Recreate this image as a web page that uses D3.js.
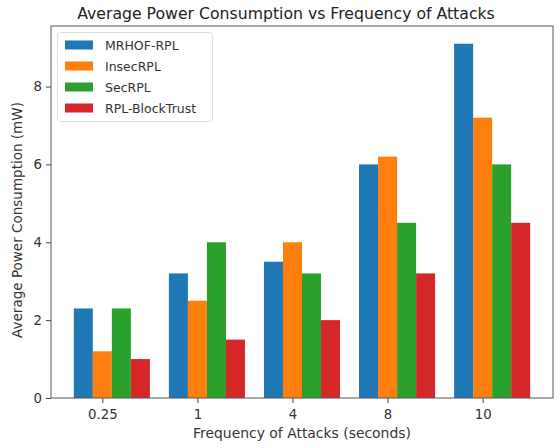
<!DOCTYPE html>
<html>
<head>
<meta charset="utf-8">
<script src="https://cdn.jsdelivr.net/npm/d3@7"></script>
<style>
  body { margin: 0; background: #fff; }
  svg { display: block; font-family: "DejaVu Sans", sans-serif; }
</style>
</head>
<body>
<svg id="chart" width="560" height="448"></svg>
<script>
const categories = ["0.25", "1", "4", "8", "10"];
const seriesNames = ["MRHOF-RPL", "InsecRPL", "SecRPL", "RPL-BlockTrust"];
const mrhof = [2.3, 3.2, 3.5, 6.0, 9.1];
const insec = [1.2, 2.5, 4.0, 6.2, 7.2];
const sec = [2.3, 4.0, 3.2, 4.5, 6.0];
const blockTrust = [1.0, 1.5, 2.0, 3.2, 4.5];
const yTicks = [0, 2, 4, 6, 8];
const colors = ["#1f77b4", "#ff7f0e", "#2ca02c", "#d62728"];
const seriesValues = [mrhof, insec, sec, blockTrust];

(function () {
const svg = d3.select("#chart");
const pL = 51, pR = 553, pT = 26, pB = 398;
const barW = 0.2;
const offsets = [-1, 0, 1, 2];
const txt = "#333";

function fit(sel, target) {
  const node = sel.node();
  const fs = parseFloat(sel.attr("font-size"));
  const w = node.getComputedTextLength();
  if (w > 0) sel.attr("font-size", (fs * target / w).toFixed(2));
  return sel;
}

const xMin = 0 + offsets[0] * barW - barW / 2;
const xMax = (categories.length - 1) + offsets[3] * barW + barW / 2;
const pad = (xMax - xMin) * 0.05;
const x = d3.scaleLinear().domain([xMin - pad, xMax + pad]).range([pL, pR]);

const yMaxData = d3.max(seriesValues.flat());
const y = d3.scaleLinear().domain([0, yMaxData * 1.05]).range([pB, pT]);

seriesValues.forEach((vals, si) => {
  svg.append("g").selectAll("rect").data(vals).join("rect")
    .attr("x", (d, i) => x(i + offsets[si] * barW - barW / 2))
    .attr("width", x(barW) - x(0))
    .attr("y", d => y(d))
    .attr("height", d => y(0) - y(d))
    .attr("fill", colors[si]);
});

const xAxis = d3.axisBottom(x)
  .tickValues(d3.range(categories.length))
  .tickFormat(i => categories[i])
  .tickSize(5).tickPadding(7);
const gx = svg.append("g").attr("transform", `translate(0,${pB})`).call(xAxis);
gx.select(".domain").remove();
gx.selectAll("text").attr("font-size", 13.3).attr("fill", txt).attr("font-family", "DejaVu Sans");
gx.selectAll("line").attr("stroke", "#444");

const yAxis = d3.axisLeft(y).tickValues(yTicks).tickSize(5).tickPadding(4);
const gy = svg.append("g").attr("transform", `translate(${pL},0)`).call(yAxis);
gy.select(".domain").remove();
gy.selectAll("text").attr("font-size", 13.3).attr("fill", txt).attr("font-family", "DejaVu Sans");
gy.selectAll("line").attr("stroke", "#444");

svg.append("rect")
  .attr("x", pL).attr("y", pT)
  .attr("width", pR - pL).attr("height", pB - pT)
  .attr("fill", "none").attr("stroke", "#555").attr("stroke-width", 1);

fit(svg.append("text")
  .attr("x", 286).attr("y", 19)
  .attr("text-anchor", "middle").attr("font-size", 16).attr("fill", "#222")
  .text("Average Power Consumption vs Frequency of Attacks"), 418);

fit(svg.append("text")
  .attr("x", 302).attr("y", 437.5)
  .attr("text-anchor", "middle").attr("font-size", 13.5).attr("fill", txt)
  .text("Frequency of Attacks (seconds)"), 218);

fit(svg.append("text")
  .attr("transform", `translate(22,${(pT + pB) / 2 + 8}) rotate(-90)`)
  .attr("text-anchor", "middle").attr("font-size", 13.5).attr("fill", txt)
  .text("Average Power Consumption (mW)"), 236);

const lg = svg.append("g").attr("transform", "translate(57.5,32.5)");
lg.append("rect").attr("x", 0).attr("y", 0).attr("width", 155).attr("height", 89)
  .attr("rx", 3).attr("fill", "#fff").attr("fill-opacity", 0.8)
  .attr("stroke", "#ddd");
seriesNames.forEach((name, i) => {
  const yy = 12.5 + i * 21;
  lg.append("rect").attr("x", 7.5).attr("y", yy - 4.5).attr("width", 28).attr("height", 9)
    .attr("fill", colors[i]);
  lg.append("text").attr("x", 47.5).attr("y", yy + 4.5)
    .attr("font-size", 12.5).attr("fill", txt).text(name);
});
})();
</script>
</body>
</html>
